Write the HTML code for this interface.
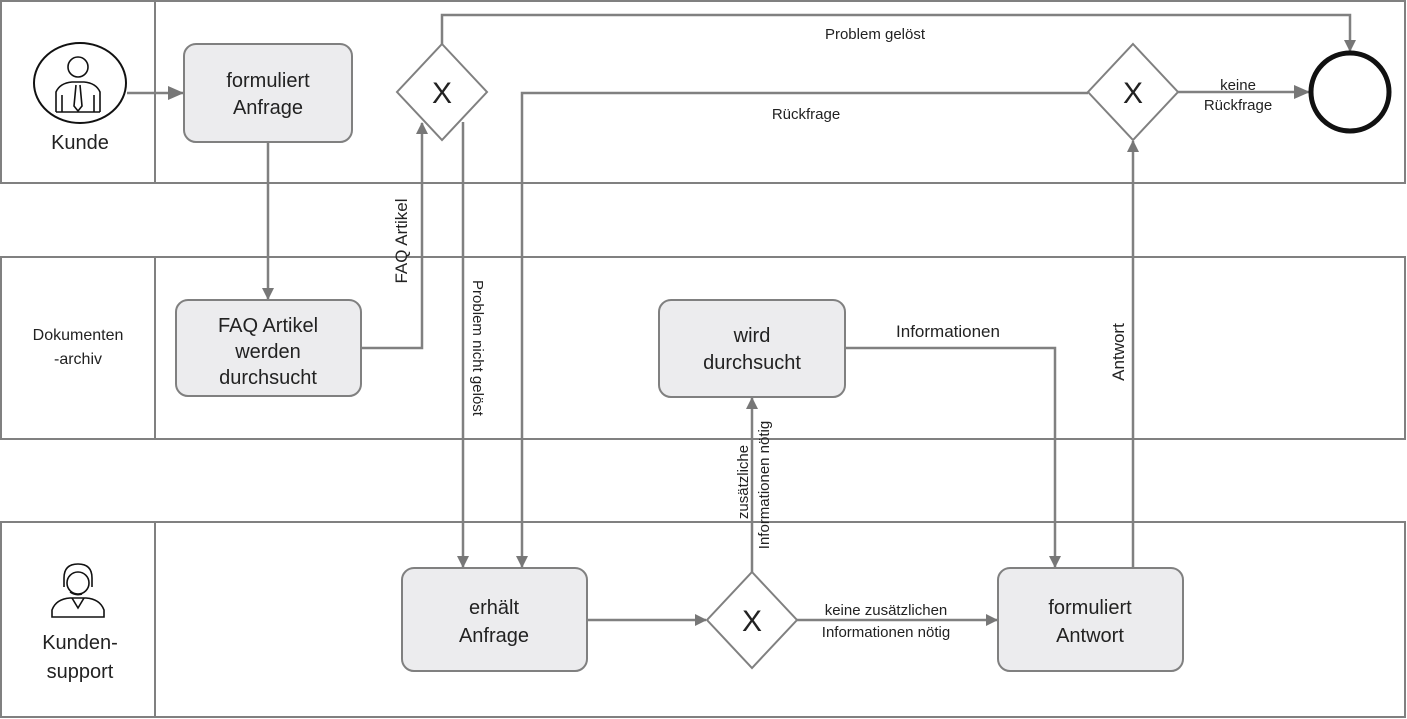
<!DOCTYPE html>
<html><head><meta charset="utf-8"><style>
body{margin:0;background:#fff}
svg{display:block}
text{font-family:"Liberation Sans",Arial,sans-serif;fill:#222}
</style></head><body>
<svg width="1407" height="719" viewBox="0 0 1407 719">
<defs>
<marker id="a" markerWidth="12" markerHeight="12" refX="11" refY="6" orient="auto" markerUnits="userSpaceOnUse">
<path d="M0,0 L12,6 L0,12 z" fill="#777"/>
</marker>
<marker id="b" markerWidth="16" markerHeight="14" refX="15" refY="7" orient="auto" markerUnits="userSpaceOnUse">
<path d="M0,0 L16,7 L0,14 z" fill="#777"/>
</marker>
</defs>
<g fill="none" stroke="#808080" stroke-width="2">
<rect x="1" y="1" width="1404" height="182"/>
<line x1="155" y1="1" x2="155" y2="183"/>
<rect x="1" y="257" width="1404" height="182"/>
<line x1="155" y1="257" x2="155" y2="439"/>
<rect x="1" y="522" width="1404" height="195"/>
<line x1="155" y1="522" x2="155" y2="717"/>
</g>
<!-- customer icon -->
<ellipse cx="80" cy="83" rx="46" ry="40" fill="#fff" stroke="#111" stroke-width="2"/>
<g fill="none" stroke="#111" stroke-width="1.6">
<circle cx="78" cy="67" r="10"/>
<path d="M56,112 L56,92 Q60,83 72,82 L84,82 Q96,83 100,92 L100,112"/>
<path d="M76,85 L74,106 L78,111 L82,106 L80,85"/>
<line x1="62" y1="95" x2="62" y2="112"/><line x1="94" y1="95" x2="94" y2="112"/>
<line x1="56" y1="112" x2="100" y2="112"/>
</g>
<text x="80" y="149" font-size="20" text-anchor="middle">Kunde</text>
<!-- support icon -->
<g fill="none" stroke="#111" stroke-width="1.6">
<circle cx="78" cy="583" r="11"/>
<path d="M64,587 L64,578 Q64,564 78,564 Q92,564 92,578 L92,587"/>
<path d="M70,592 Q76,596 82,594"/>
<path d="M52,617 L52,610 Q56,599 70,598 L86,598 Q100,599 104,610 L104,617 Z"/>
<path d="M72,598 L78,608 L84,598"/>
</g>
<text x="80" y="649" font-size="20" text-anchor="middle">Kunden-</text>
<text x="80" y="678" font-size="20" text-anchor="middle">support</text>
<text x="78" y="340" font-size="16" text-anchor="middle">Dokumenten</text>
<text x="78" y="364" font-size="16" text-anchor="middle">-archiv</text>
<!-- connectors -->
<g fill="none" stroke="#808080" stroke-width="2.5">
<line x1="127" y1="93" x2="183" y2="93" marker-end="url(#b)"/>
<line x1="268" y1="142" x2="268" y2="299" marker-end="url(#a)"/>
<polyline points="361,348 422,348 422,123" marker-end="url(#a)"/>
<polyline points="442,44 442,15 1350,15 1350,51" marker-end="url(#a)"/>
<line x1="463" y1="122" x2="463" y2="567" marker-end="url(#a)"/>
<polyline points="1088,93 522,93 522,567" marker-end="url(#a)"/>
<line x1="587" y1="620" x2="706" y2="620" marker-end="url(#a)"/>
<line x1="752" y1="572" x2="752" y2="398" marker-end="url(#a)"/>
<line x1="797" y1="620" x2="997" y2="620" marker-end="url(#a)"/>
<polyline points="845,348 1055,348 1055,567" marker-end="url(#a)"/>
<line x1="1133" y1="568" x2="1133" y2="141" marker-end="url(#a)"/>
<line x1="1178" y1="92" x2="1309" y2="92" marker-end="url(#b)"/>
</g>
<!-- tasks -->
<g fill="#ececee" stroke="#808080" stroke-width="2">
<rect x="184" y="44" width="168" height="98" rx="12"/>
<rect x="176" y="300" width="185" height="96" rx="12"/>
<rect x="659" y="300" width="186" height="97" rx="12"/>
<rect x="402" y="568" width="185" height="103" rx="12"/>
<rect x="998" y="568" width="185" height="103" rx="12"/>
</g>
<g fill="#fff" stroke="#808080" stroke-width="2">
<polygon points="442,44 487,92 442,140 397,92"/>
<polygon points="1133,44 1178,92 1133,140 1088,92"/>
<polygon points="752,572 797,620 752,668 707,620"/>
</g>
<circle cx="1350" cy="92" r="39" fill="#fff" stroke="#111" stroke-width="5"/>
<g font-size="20" text-anchor="middle">
<text x="268" y="87">formuliert</text><text x="268" y="114">Anfrage</text>
<text x="268" y="332">FAQ Artikel</text><text x="268" y="358">werden</text><text x="268" y="384">durchsucht</text>
<text x="752" y="342">wird</text><text x="752" y="369">durchsucht</text>
<text x="494" y="614">erhält</text><text x="494" y="642">Anfrage</text>
<text x="1090" y="614">formuliert</text><text x="1090" y="642">Antwort</text>
</g>
<g font-size="30" text-anchor="middle">
<text x="442" y="103">X</text><text x="1133" y="103">X</text><text x="752" y="631">X</text>
</g>
<g font-size="15" text-anchor="middle">
<text x="875" y="39">Problem gelöst</text>
<text x="806" y="119">Rückfrage</text>
<text x="1238" y="90">keine</text><text x="1238" y="110">Rückfrage</text>
<text x="948" y="337" font-size="17">Informationen</text>
<text x="886" y="615">keine zusätzlichen</text>
<text x="886" y="637">Informationen nötig</text>
<text transform="translate(407,241) rotate(-90)" font-size="17">FAQ Artikel</text>
<text transform="translate(473,348) rotate(90)">Problem nicht  gelöst</text>
<text transform="translate(748,482) rotate(-90)">zusätzliche</text>
<text transform="translate(769,485) rotate(-90)">Informationen nötig</text>
<text transform="translate(1124,352) rotate(-90)" font-size="17">Antwort</text>
</g>
</svg>
</body></html>
